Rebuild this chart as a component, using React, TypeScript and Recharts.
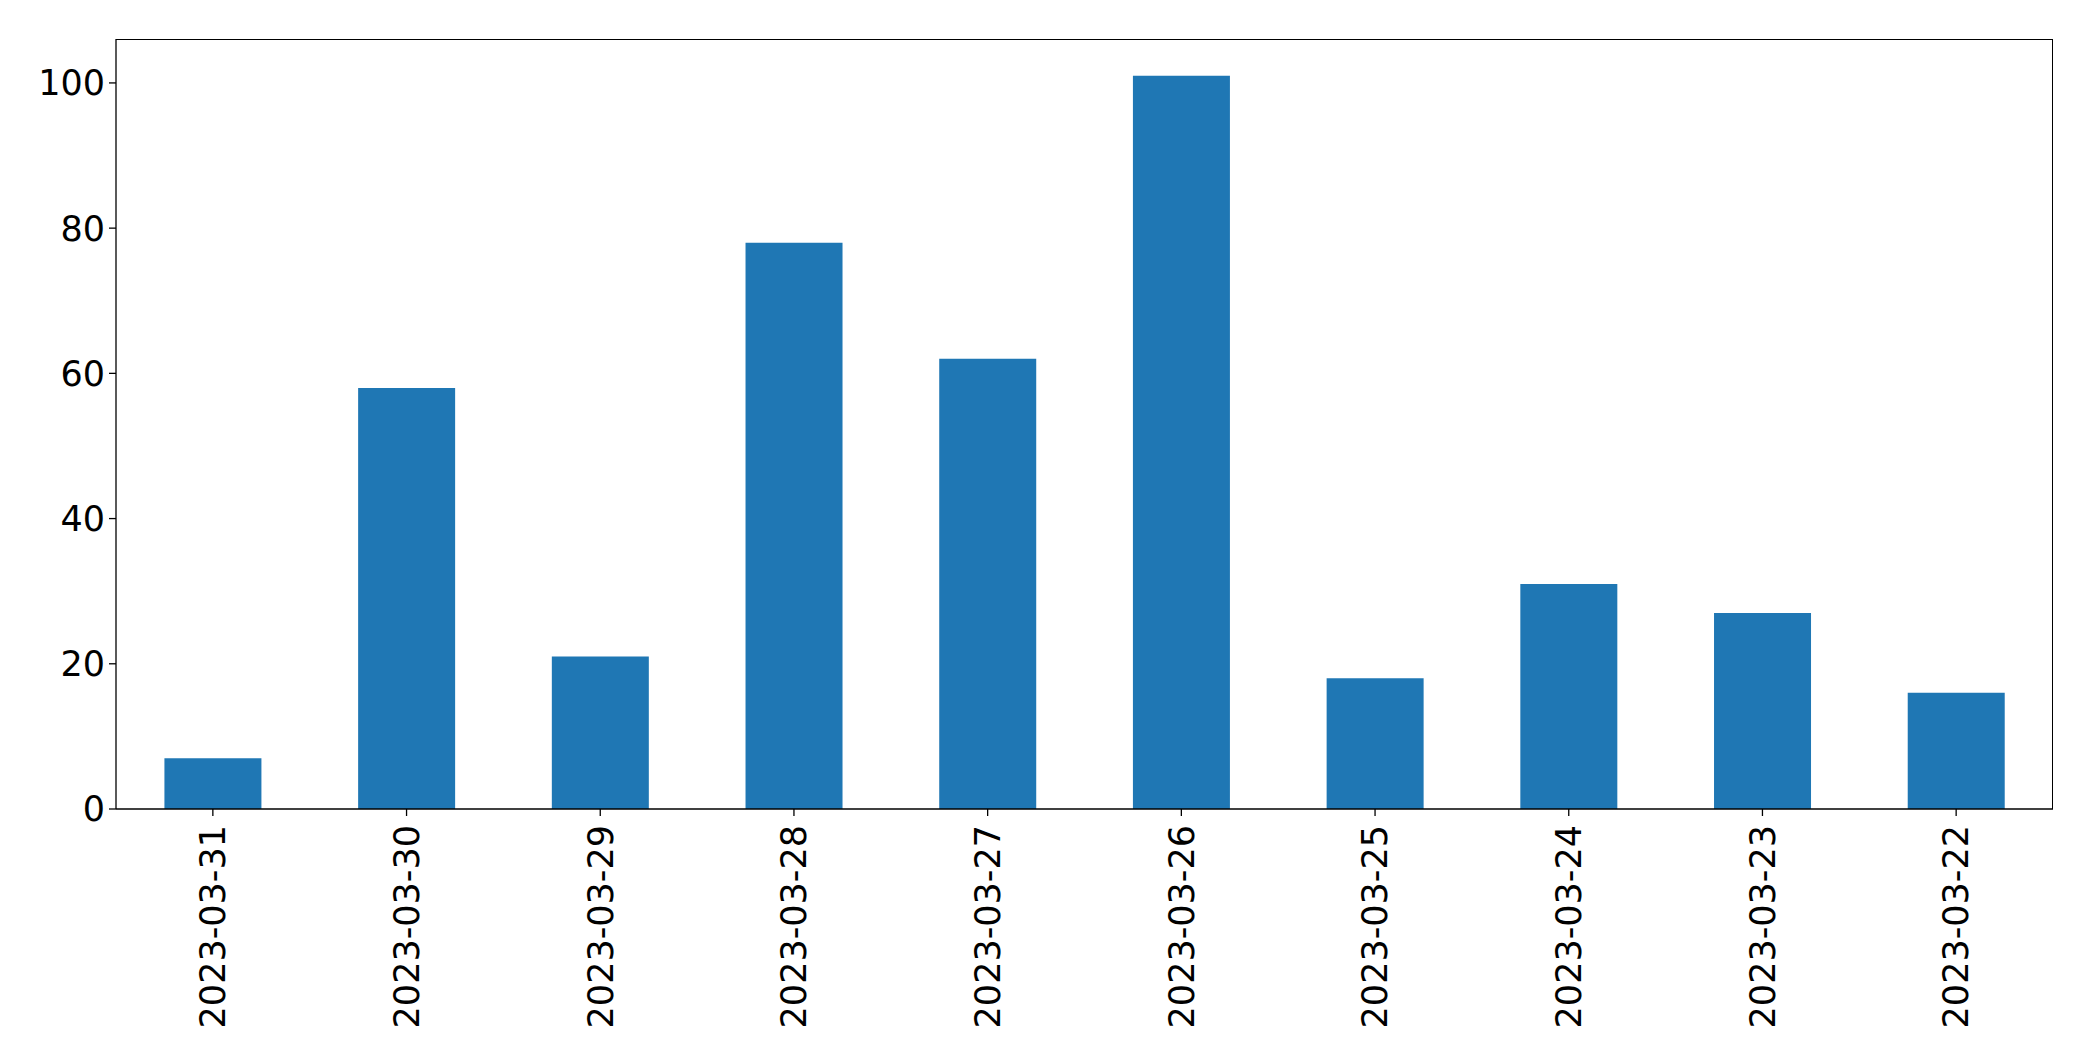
import { BarChart, Bar, XAxis, YAxis } from 'recharts';

const dates = [
    '2023-03-31', '2023-03-30', '2023-03-29', '2023-03-28', '2023-03-27',
    '2023-03-26', '2023-03-25', '2023-03-24', '2023-03-23', '2023-03-22',
];
const counts = [7, 58, 21, 78, 62, 101, 18, 31, 27, 16];
const yTicks = [0, 20, 40, 60, 80, 100];

const data = dates.map((date, i) => ({ date, count: counts[i] }));

const FONT = '"DejaVu Sans", sans-serif';

const DateTick = (props: any) => {
    const { x, y, payload } = props;
    return (
        <g transform={`translate(${x},${y})`}>
            <text
                transform="rotate(-90)"
                x={-9}
                y={0}
                dy="0.35em"
                textAnchor="end"
                fill="#000"
                fontSize={35}
                fontFamily={FONT}
            >
                {payload.value}
            </text>
        </g>
    );
};

export default function App() {
    return (
        <div style={{ position: 'absolute', left: 0, top: 0, background: '#fff' }}>
            <BarChart
                width={2093}
                height={1061}
                data={data}
                margin={{ top: 39, right: 40, left: 0, bottom: 0 }}
                barCategoryGap="25%"
            >
                <XAxis
                    dataKey="date"
                    height={252}
                    interval={0}
                    tick={<DateTick />}
                    tickSize={7}
                    tickMargin={0}
                    stroke="#000"
                    strokeWidth={1.3}
                    tickLine={{ stroke: '#000', strokeWidth: 1.3 }}
                />
                <YAxis
                    width={116}
                    domain={[0, 106.05]}
                    ticks={yTicks}
                    tickSize={7}
                    tickMargin={4}
                    stroke="#000"
                    strokeWidth={1.3}
                    tickLine={{ stroke: '#000', strokeWidth: 1.3 }}
                    tick={{ fill: '#000', fontSize: 35, fontFamily: FONT }}
                />
                <Bar dataKey="count" fill="#1f77b4" isAnimationActive={false} />
            </BarChart>
            {/* top and right spines of the plot frame */}
            <div
                style={{
                    position: 'absolute',
                    left: 116,
                    top: 39,
                    width: 1937,
                    height: 770,
                    borderTop: '1.3px solid #000',
                    borderRight: '1.3px solid #000',
                    boxSizing: 'border-box',
                    pointerEvents: 'none',
                }}
            />
        </div>
    );
}
